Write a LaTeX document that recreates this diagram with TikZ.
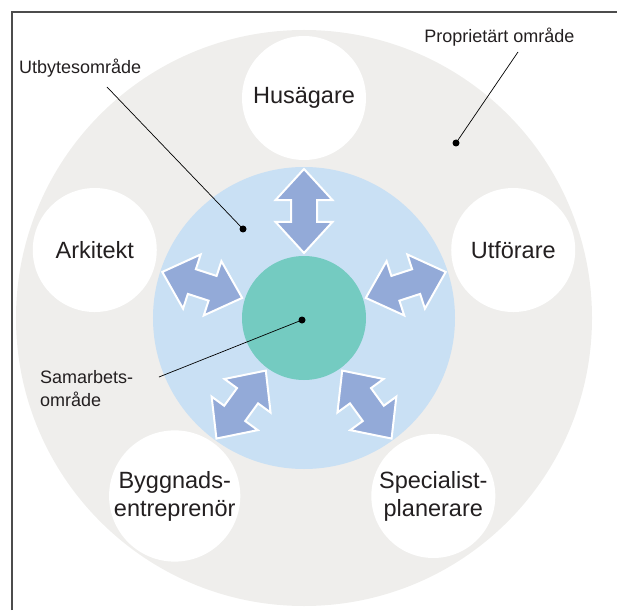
\documentclass[tikz,border=0pt]{standalone}
\usepackage{fontspec}
\setmainfont{Liberation Sans}
\usetikzlibrary{shapes.arrows}
\definecolor{zonegray}{RGB}{239,238,236}
\definecolor{zoneblue}{RGB}{201,224,244}
\definecolor{zonegreen}{RGB}{116,203,193}
\definecolor{arrowblue}{RGB}{147,170,216}
\definecolor{inkgray}{RGB}{35,31,32}

\begin{document}
\begin{tikzpicture}[x=1pt, y=1pt,
    every node/.style={inner sep=0pt, text=inkgray},
    zonecircle/.style={circle, minimum size=#1},
    party/.style={circle, fill=white, minimum size=124pt, align=center, font=\fontsize{23.5}{28}\selectfont},
    swaparrow/.style={double arrow, fill=arrowblue, draw=white, line width=2pt, inner xsep=0pt, inner ysep=12pt, minimum height=84pt, double arrow head extend=15.5pt, double arrow tip angle=85, rotate=#1},
    calloutlabel/.style={font=\fontsize{18}{23}\selectfont, align=left},
    leaderdot/.style={circle, fill=black, minimum size=7pt}]
    \useasboundingbox (-304,-292) rectangle (313,318);

    % Zones
    \node[zonecircle=576pt, fill=zonegray] (proprietary) at (0,0) {};
    \node[party] (husagare) at (90:220) {Husägare};
    \node[party] (arkitekt) at (162:220) {Arkitekt};
    \node[party] (byggnad) at (234:220) {Byggnads-\\entreprenör};
    \node[party] (specialist) at (306:220) {Specialist-\\planerare};
    \node[party] (utforare) at (18:220) {Utförare};
    \node[zonecircle=302pt, fill=zoneblue] (exchange) at (0,0) {};
    \node[zonecircle=124pt, fill=zonegreen] (cooperation) at (0,0) {};

    % Arrows
    \node[swaparrow=90] (arrH) at (90:107) {};
    \node[swaparrow=162] (arrA) at (162:107) {};
    \node[swaparrow=234] (arrB) at (234:107) {};
    \node[swaparrow=306] (arrS) at (306:107) {};
    \node[swaparrow=18] (arrU) at (18:107) {};

    % Labels
    \node[calloutlabel, anchor=west] (lblUtbyte) at (-285,250) {Utbytesområde};
    \node[calloutlabel] (lblProp) at (195.5,281) {Proprietärt område};
    \node[calloutlabel, anchor=west] (lblSamarb) at (-264,-70.5) {Samarbets-\\område};

    % Leaders
    \node[leaderdot] (dotUtbyte) at (-61,89) {};
    \node[leaderdot] (dotProp) at (152,175) {};
    \node[leaderdot] (dotSamarb) at (-2,-2) {};
    \coordinate (endUtbyte) at (-197,231);
    \coordinate (endProp) at (214,266);
    \coordinate (endSamarb) at (-145,-59);
    \draw[line width=0.7pt] (endUtbyte) -- (dotUtbyte.center);
    \draw[line width=0.7pt] (endProp) -- (dotProp.center);
    \draw[line width=0.7pt] (endSamarb) -- (dotSamarb.center);

    % Frame
    \draw[black!70, line width=1.2pt] (-292,-292) -- (-292,306) -- (313,306);
\end{tikzpicture}
\end{document}
